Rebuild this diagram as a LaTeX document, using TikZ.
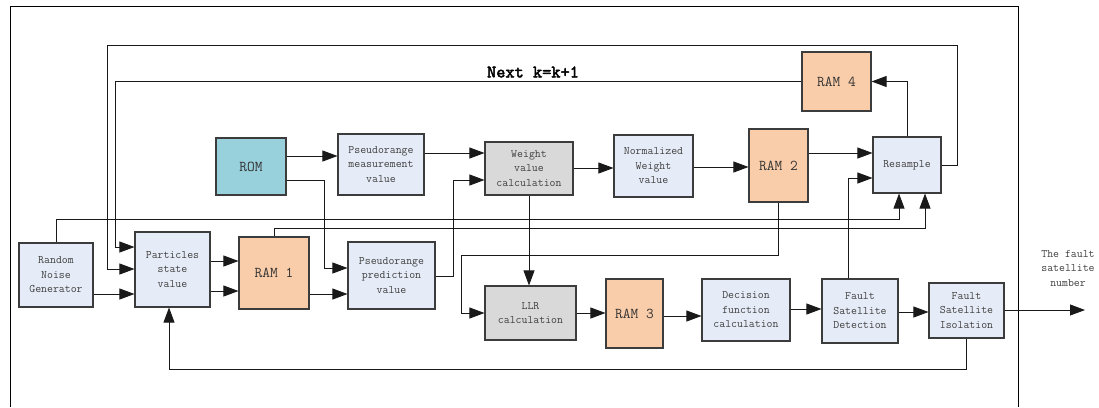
\documentclass[tikz,border=0pt]{standalone}
\usepackage{fontspec}
\usetikzlibrary{arrows.meta}
\newfontfamily\nextfont{lmmono10-regular.otf}[FakeBold=2.5]
\definecolor{lightblue}{RGB}{230,236,247}
\definecolor{ramorange}{RGB}{250,205,170}
\definecolor{romteal}{RGB}{152,208,220}
\definecolor{calcgray}{RGB}{217,217,217}
\definecolor{boxline}{RGB}{60,60,60}
\definecolor{txtgray}{RGB}{64,64,64}
\tikzset{
  box/.style={draw=boxline, line width=1.1pt, fill=lightblue, inner sep=0pt,
    align=center, text=txtgray, font=\ttfamily\fontsize{11.5}{14.5}\selectfont},
  ram/.style={box, fill=ramorange, text=black!80, font=\ttfamily\fontsize{15}{16}\selectfont},
  rom/.style={ram, fill=romteal},
  calc/.style={box, fill=calcgray},
  arr/.style={draw=black!90, line width=0.8pt, -{Triangle[length=15pt,width=11pt]}},
  ln/.style={draw=black!90, line width=0.8pt},
}
\begin{document}
\begin{tikzpicture}[x=1pt,y=-1pt]
\useasboundingbox (0,0) rectangle (1099,407);
% outer frame (open at the bottom)
\draw[line width=1pt] (10,407) -- (10,6) -- (1018,6) -- (1018,407);

% boxes
\node[rom,  minimum width=70pt, minimum height=57pt] (ROM)  at (251,166.5) {ROM};
\node[box,  minimum width=86pt, minimum height=61pt] (PM)   at (381,164.5) {Pseudorange\\measurement\\value};
\node[calc, minimum width=88pt, minimum height=53pt] (W)    at (529,168.5) {Weight\\value\\calculation};
\node[box,  minimum width=79pt, minimum height=62pt] (N)    at (653.5,166) {Normalized\\Weight\\value};
\node[ram,  minimum width=59pt, minimum height=73pt] (RAM2) at (778.5,165.5) {RAM 2};
\node[box,  minimum width=68pt, minimum height=56pt] (RS)   at (907,165) {Resample};
\node[ram,  minimum width=69pt, minimum height=59pt] (RAM4) at (836.5,81.5) {RAM 4};
\node[box,  minimum width=74pt, minimum height=64pt] (RNG)  at (56,275) {Random\\Noise\\Generator};
\node[box,  minimum width=75pt, minimum height=75pt] (P)    at (172.5,269.5) {Particles\\state\\value};
\node[ram,  minimum width=70pt, minimum height=72pt] (RAM1) at (274,273) {RAM 1};
\node[box,  minimum width=87pt, minimum height=67pt] (PP)   at (391.5,275.5) {Pseudorange\\prediction\\value};
\node[calc, minimum width=91pt, minimum height=54pt] (LLR)  at (530.5,313) {LLR\\calculation};
\node[ram,  minimum width=57pt, minimum height=69pt] (RAM3) at (634.5,313.5) {RAM 3};
\node[box,  minimum width=88pt, minimum height=62pt] (D)    at (746,310) {Decision\\function\\calculation};
\node[box,  minimum width=76pt, minimum height=64pt] (FSD)  at (860,311) {Fault\\Satellite\\Detection};
\node[box,  minimum width=75pt, minimum height=55pt] (FSI)  at (966.5,310.5) {Fault\\Satellite\\Isolation};

% labels
\node[font=\nextfont\fontsize{17.5}{19}\selectfont, inner sep=0pt] (next) at (533,72) {Next k=k+1};
\node[font=\ttfamily\fontsize{11.5}{14.5}\selectfont, text=txtgray, align=center, inner sep=0pt] (outlbl) at (1068,268) {The fault\\satellite\\number};
\coordinate (out) at (1085,310);

% connectors
\draw[arr] (ROM.east |- 0,156) -- (PM.west |- 0,156);
\draw[arr] (ROM.east |- 0,180) -| (324,268) -- (PP.west |- 0,268);
\draw[arr] (PM.east |- 0,153) -- (W.west |- 0,153);
\draw[arr] (PP.east |- 0,276) -| (453,180) -- (W.west |- 0,180);
\draw[arr] (W.east |- 0,168) -- (N.west |- 0,168);
\draw[arr] (N.east |- 0,167) -- (RAM2.west |- 0,167);
\draw[arr] (RAM2.east |- 0,153) -- (RS.west |- 0,153);
\draw[arr] (RS.north) |- (RAM4.east);
\draw[arr] (RAM4.west) -| (115,247) -- (P.west |- 0,247);
\draw[arr] (RS.east) -| (957,45) -| (107,269) -- (P.west |- 0,269);
\draw[arr] (RNG.east |- 0,294) -- (P.west |- 0,294);
\draw[arr] (RNG.north) |- (899,219) -- (RS.south -| 899,0);
\draw[arr] (RAM1.north) |- (925,228) -- (RS.south -| 925,0);
\draw[arr] (P.east |- 0,261) -- (RAM1.west |- 0,261);
\draw[arr] (P.east |- 0,291) -- (RAM1.west |- 0,291);
\draw[arr] (RAM1.east |- 0,294) -- (PP.west |- 0,294);
\draw[arr] (W.south) -- (LLR.north -| W.south);
\draw[arr] (RAM2.south) |- (461,255) |- (LLR.west);
\draw[arr] (LLR.east) -- (RAM3.west |- LLR.east);
\draw[arr] (RAM3.east |- 0,316) -- (D.west |- 0,316);
\draw[arr] (D.east |- 0,309) -- (FSD.west |- 0,309);
\draw[arr] (FSD.east |- 0,312) -- (FSI.west |- 0,312);
\draw[arr] (FSI.east |- 0,310) -- (out);
\draw[arr] (FSD.north -| 848,0) |- (RS.west |- 0,178);
\draw[arr] (FSI.south) |- (169,369) -- (P.south -| 169,0);
\end{tikzpicture}
\end{document}
